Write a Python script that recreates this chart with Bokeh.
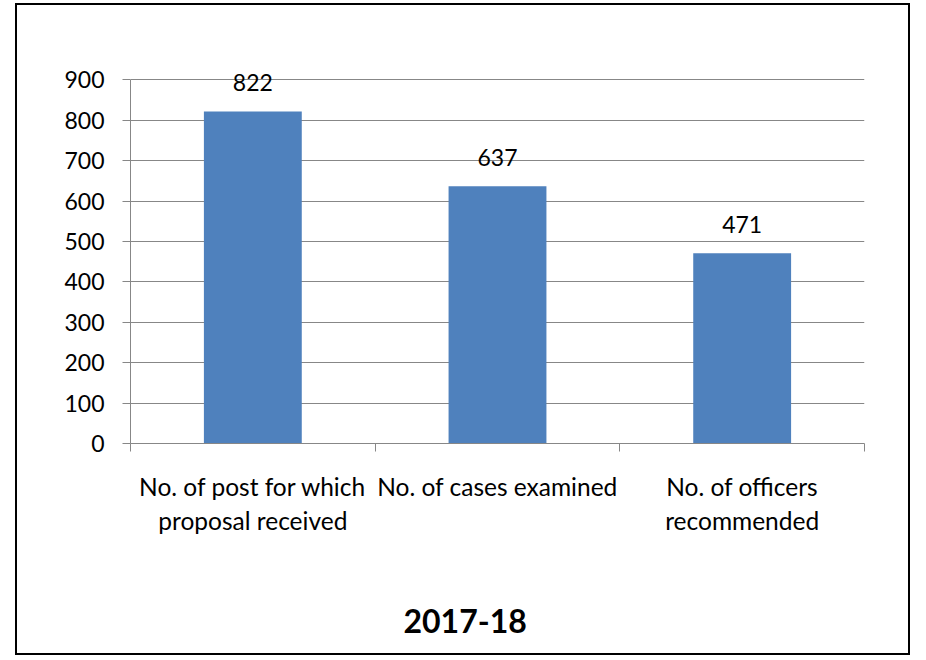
from bokeh.plotting import figure
from bokeh.models import Range1d, FixedTicker, ColumnDataSource, LabelSet, LinearAxis, Title
from bokeh.core.properties import value
from bokeh.embed import file_html
from bokeh.resources import INLINE

categories = ["No. of post for which\nproposal received",
              "No. of cases examined",
              "No. of officers\nrecommended"]
values = [822, 637, 471]
y_ticks = [0, 100, 200, 300, 400, 500, 600, 700, 800, 900]
chart_title = "2017-18"

FONT = "Lato"
GRAY = "#878787"
BAR = "#4F81BD"

xs = [i + 0.5 for i in range(len(categories))]
bounds = list(range(len(categories) + 1))

p = figure(width=895, height=652, output_backend="svg", toolbar_location=None,
           x_range=Range1d(0, len(categories)), y_range=Range1d(0, 1000),
           min_border_left=113, min_border_right=48, min_border_top=34,
           min_border_bottom=214,
           styles={"border": "2px solid black", "margin-left": "15px",
                   "margin-top": "3px"})
p.outline_line_color = None
p.background_fill_color = "white"
p.border_fill_color = "white"

src = ColumnDataSource(dict(x=xs, top=values, label=[str(v) for v in values]))
p.vbar(x="x", top="top", width=0.4, source=src, fill_color=BAR, line_color=None)

# y axis
p.yaxis.ticker = FixedTicker(ticks=y_ticks)
p.yaxis.bounds = (0, 900)
p.yaxis.axis_line_color = GRAY
p.yaxis.major_tick_line_color = GRAY
p.yaxis.major_tick_out = 8
p.yaxis.major_tick_in = 0
p.yaxis.minor_tick_line_color = None
p.yaxis.major_label_text_font = FONT
p.yaxis.major_label_text_font_size = "23px"
p.yaxis.major_label_text_color = "black"
p.yaxis.major_label_standoff = 18

# x axis: labels at category centres, tick marks at category boundaries
p.xaxis.ticker = FixedTicker(ticks=xs, minor_ticks=bounds)
p.xaxis.major_label_overrides = {x: c for x, c in zip(xs, categories)}
p.xaxis.axis_line_color = GRAY
p.xaxis.major_tick_line_color = None
p.xaxis.major_tick_out = 0
p.xaxis.major_tick_in = 0
p.xaxis.minor_tick_line_color = GRAY
p.xaxis.minor_tick_out = 8
p.xaxis.minor_tick_in = 0
p.xaxis.major_label_text_font = FONT
p.xaxis.major_label_text_font_size = "24.5px"
p.xaxis.major_label_text_color = "black"
p.xaxis.major_label_standoff = 20

p.xgrid.grid_line_color = None
p.ygrid.ticker = FixedTicker(ticks=y_ticks)
p.ygrid.grid_line_color = GRAY
p.ygrid.grid_line_width = 1

# data labels
p.add_layout(LabelSet(x="x", y="top", text="label", source=src, y_offset=29,
                      text_align="center", text_baseline="middle",
                      text_font=value(FONT), text_font_size=value("23px"),
                      text_color="black"))

# invisible spacer between the category labels and the chart title
spacer = LinearAxis(ticker=FixedTicker(ticks=[xs[1]]), axis_line_color=None,
                    major_tick_line_color=None, minor_tick_line_color=None,
                    major_tick_out=68, major_tick_in=0, minor_tick_out=0,
                    major_label_standoff=0, major_label_overrides={xs[1]: ""},
                    major_label_text_font_size="1px")
p.add_layout(spacer, "below")

# chart title at the bottom
p.add_layout(Title(text=chart_title, align="left", offset=273, standoff=0,
                   text_font=FONT, text_font_size="32px",
                   text_font_style="bold", text_color="black"), "below")

open("out.html", "w").write(file_html(p, INLINE))
